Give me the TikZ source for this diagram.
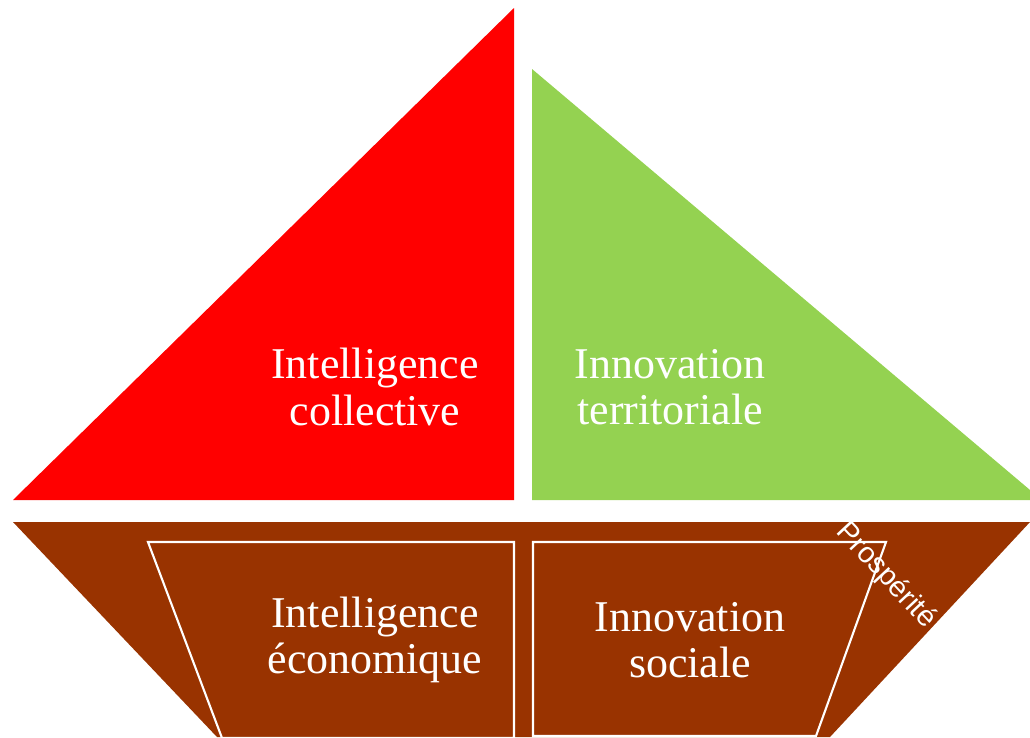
\documentclass[tikz,border=0pt]{standalone}
\usepackage{fontspec}
\setmainfont{Liberation Serif}
\newfontfamily\labelsans{Liberation Sans}
\definecolor{sailred}{HTML}{FF0000}
\definecolor{sailgreen}{HTML}{94D251}
\definecolor{hullbrown}{HTML}{993300}
\tikzset{
    boxline/.style = {draw = white, line width = 1.2pt},
    sailtext/.style = {text = white, align = center, font = \fontsize{25}{26.5}\selectfont},
}

\begin{document}
\begin{tikzpicture}[x = 0.02cm, y = -0.02cm]
\useasboundingbox (0,0) rectangle (1030,737);
\fill[sailred] (514,8) -- (514,500) -- (13,500) -- cycle;
\fill[sailgreen] (532,69) -- (1030,490) -- (1030,500) -- (532,500) -- cycle;
\fill[hullbrown] (13,522) -- (1030,522) -- (830,737) -- (217,737) -- cycle;
\draw[boxline] (148,542) -- (514,542) -- (514,738) -- (222,738) -- cycle;
\draw[boxline] (533,542) -- (886,542) -- (816,736) -- (533,736) -- cycle;
\node[sailtext] (collective) at (375,387) {Intelligence\\collective};
\node[sailtext] (territoriale) at (670,387) {Innovation\\territoriale};
\node[sailtext] (economique) at (375,640) {Intelligence\\économique};
\node[sailtext] (sociale) at (690,640) {Innovation\\sociale};
\node[text = white, font = \labelsans\fontsize{16.5}{18}\selectfont, rotate = -47] (prosperite) at (886,576) {Prospérité};
\end{tikzpicture}
\end{document}
